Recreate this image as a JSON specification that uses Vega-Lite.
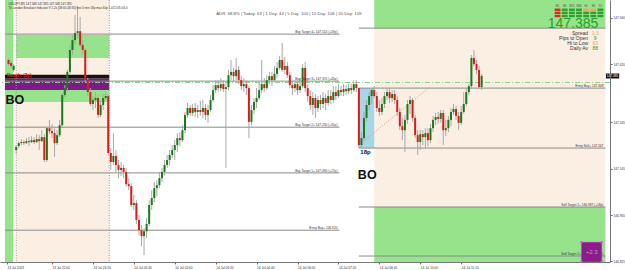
{
"$schema": "https://vega.github.io/schema/vega-lite/v6.json",
"width": 610, "height": 262,
"autosize": {"type": "none"},
"padding": {"left": 0, "top": 0, "right": 15, "bottom": 8},
"background": "white",
"config": {"view": {"stroke": null}, "font": "Liberation Sans"},
"datasets": {
"levels": [
{"t1":"2023-07-13T20:28Z","t2":"2023-07-14T07:22Z","p":147.511,"label":"Buy Target 4+ 147.510 (+59p)"},
{"t1":"2023-07-13T20:28Z","t2":"2023-07-14T07:22Z","p":147.369,"label":"Buy Target 3+ 147.370 (+45p)"},
{"t1":"2023-07-13T20:28Z","t2":"2023-07-14T07:22Z","p":147.230,"label":"Buy Target 2+ 147.230 (+31p)"},
{"t1":"2023-07-13T20:28Z","t2":"2023-07-14T07:22Z","p":147.092,"label":"Buy Target 1+ 147.090 (+17p)"},
{"t1":"2023-07-13T20:28Z","t2":"2023-07-14T07:22Z","p":146.919,"label":"Entry Buy+ 146.920"},
{"t1":"2023-07-14T08:00Z","t2":"2023-07-14T16:02Z","p":147.529,"label":""},
{"t1":"2023-07-14T08:00Z","t2":"2023-07-14T16:02Z","p":147.348,"label":"Entry Buy+ 147.348"},
{"t1":"2023-07-14T08:00Z","t2":"2023-07-14T16:02Z","p":147.167,"label":"Entry Sell+ 147.167"},
{"t1":"2023-07-14T08:00Z","t2":"2023-07-14T16:02Z","p":146.989,"label":"Sell Target 1+ 146.987 (+18p)"},
{"t1":"2023-07-14T08:00Z","t2":"2023-07-14T16:02Z","p":146.841,"label":"Sell Target 2+ 146.840 (+33p)"}
],
"candles": [
{"t":"2023-07-13T20:35Z","o":147.433,"h":147.439,"l":147.415,"c":147.421},
{"t":"2023-07-13T20:40Z","o":147.424,"h":147.430,"l":147.409,"c":147.415},
{"t":"2023-07-13T20:45Z","o":147.403,"h":147.421,"l":147.397,"c":147.415},
{"t":"2023-07-13T20:50Z","o":147.161,"h":147.176,"l":147.149,"c":147.170},
{"t":"2023-07-13T20:55Z","o":147.173,"h":147.188,"l":147.167,"c":147.182},
{"t":"2023-07-13T21:00Z","o":147.182,"h":147.194,"l":147.176,"c":147.185},
{"t":"2023-07-13T21:05Z","o":147.185,"h":147.191,"l":147.176,"c":147.182},
{"t":"2023-07-13T21:10Z","o":147.182,"h":147.197,"l":147.179,"c":147.188},
{"t":"2023-07-13T21:15Z","o":147.188,"h":147.200,"l":147.173,"c":147.185},
{"t":"2023-07-13T21:20Z","o":147.185,"h":147.203,"l":147.182,"c":147.191},
{"t":"2023-07-13T21:25Z","o":147.191,"h":147.200,"l":147.179,"c":147.185},
{"t":"2023-07-13T21:30Z","o":147.185,"h":147.209,"l":147.182,"c":147.194},
{"t":"2023-07-13T21:35Z","o":147.194,"h":147.206,"l":147.161,"c":147.188},
{"t":"2023-07-13T21:40Z","o":147.188,"h":147.221,"l":147.185,"c":147.200},
{"t":"2023-07-13T21:45Z","o":147.200,"h":147.209,"l":147.125,"c":147.131},
{"t":"2023-07-13T21:50Z","o":147.131,"h":147.230,"l":147.125,"c":147.227},
{"t":"2023-07-13T21:55Z","o":147.227,"h":147.252,"l":147.209,"c":147.218},
{"t":"2023-07-13T22:00Z","o":147.218,"h":147.240,"l":147.197,"c":147.212},
{"t":"2023-07-13T22:05Z","o":147.212,"h":147.227,"l":147.140,"c":147.182},
{"t":"2023-07-13T22:10Z","o":147.182,"h":147.221,"l":147.176,"c":147.206},
{"t":"2023-07-13T22:15Z","o":147.206,"h":147.252,"l":147.200,"c":147.236},
{"t":"2023-07-13T22:20Z","o":147.236,"h":147.333,"l":147.230,"c":147.327},
{"t":"2023-07-13T22:25Z","o":147.327,"h":147.357,"l":147.321,"c":147.348},
{"t":"2023-07-13T22:30Z","o":147.348,"h":147.403,"l":147.336,"c":147.397},
{"t":"2023-07-13T22:35Z","o":147.397,"h":147.478,"l":147.391,"c":147.463},
{"t":"2023-07-13T22:40Z","o":147.463,"h":147.508,"l":147.448,"c":147.493},
{"t":"2023-07-13T22:45Z","o":147.493,"h":147.569,"l":147.481,"c":147.514},
{"t":"2023-07-13T22:50Z","o":147.514,"h":147.596,"l":147.499,"c":147.520},
{"t":"2023-07-13T22:55Z","o":147.520,"h":147.563,"l":147.472,"c":147.478},
{"t":"2023-07-13T23:00Z","o":147.478,"h":147.493,"l":147.448,"c":147.463},
{"t":"2023-07-13T23:05Z","o":147.463,"h":147.469,"l":147.366,"c":147.372},
{"t":"2023-07-13T23:10Z","o":147.372,"h":147.378,"l":147.324,"c":147.336},
{"t":"2023-07-13T23:15Z","o":147.336,"h":147.348,"l":147.294,"c":147.300},
{"t":"2023-07-13T23:20Z","o":147.300,"h":147.324,"l":147.282,"c":147.312},
{"t":"2023-07-13T23:25Z","o":147.312,"h":147.336,"l":147.288,"c":147.318},
{"t":"2023-07-13T23:30Z","o":147.318,"h":147.327,"l":147.258,"c":147.267},
{"t":"2023-07-13T23:35Z","o":147.267,"h":147.312,"l":147.261,"c":147.297},
{"t":"2023-07-13T23:40Z","o":147.297,"h":147.330,"l":147.282,"c":147.318},
{"t":"2023-07-13T23:45Z","o":147.318,"h":147.336,"l":147.312,"c":147.324},
{"t":"2023-07-13T23:50Z","o":147.324,"h":147.330,"l":147.146,"c":147.152},
{"t":"2023-07-13T23:55Z","o":147.152,"h":147.167,"l":147.101,"c":147.125},
{"t":"2023-07-14T00:00Z","o":147.125,"h":147.212,"l":147.116,"c":147.143},
{"t":"2023-07-14T00:05Z","o":147.143,"h":147.161,"l":147.095,"c":147.116},
{"t":"2023-07-14T00:10Z","o":147.116,"h":147.131,"l":147.076,"c":147.101},
{"t":"2023-07-14T00:15Z","o":147.101,"h":147.125,"l":147.082,"c":147.107},
{"t":"2023-07-14T00:20Z","o":147.107,"h":147.116,"l":147.076,"c":147.095},
{"t":"2023-07-14T00:25Z","o":147.095,"h":147.107,"l":147.052,"c":147.058},
{"t":"2023-07-14T00:30Z","o":147.058,"h":147.076,"l":147.040,"c":147.052},
{"t":"2023-07-14T00:35Z","o":147.052,"h":147.061,"l":146.989,"c":146.995},
{"t":"2023-07-14T00:40Z","o":146.995,"h":147.025,"l":146.980,"c":147.001},
{"t":"2023-07-14T00:45Z","o":147.001,"h":147.010,"l":146.938,"c":146.950},
{"t":"2023-07-14T00:50Z","o":146.950,"h":146.965,"l":146.904,"c":146.919},
{"t":"2023-07-14T00:55Z","o":146.919,"h":146.934,"l":146.871,"c":146.901},
{"t":"2023-07-14T01:00Z","o":146.901,"h":146.925,"l":146.844,"c":146.916},
{"t":"2023-07-14T01:05Z","o":146.916,"h":146.956,"l":146.895,"c":146.938},
{"t":"2023-07-14T01:10Z","o":146.938,"h":147.010,"l":146.931,"c":146.995},
{"t":"2023-07-14T01:15Z","o":146.995,"h":147.040,"l":146.980,"c":147.016},
{"t":"2023-07-14T01:20Z","o":147.016,"h":147.064,"l":147.004,"c":147.046},
{"t":"2023-07-14T01:25Z","o":147.046,"h":147.070,"l":147.022,"c":147.055},
{"t":"2023-07-14T01:30Z","o":147.055,"h":147.095,"l":147.046,"c":147.076},
{"t":"2023-07-14T01:35Z","o":147.076,"h":147.107,"l":147.064,"c":147.095},
{"t":"2023-07-14T01:40Z","o":147.095,"h":147.131,"l":147.085,"c":147.116},
{"t":"2023-07-14T01:45Z","o":147.116,"h":147.146,"l":147.107,"c":147.131},
{"t":"2023-07-14T01:50Z","o":147.131,"h":147.161,"l":147.113,"c":147.146},
{"t":"2023-07-14T01:55Z","o":147.146,"h":147.176,"l":147.137,"c":147.161},
{"t":"2023-07-14T02:00Z","o":147.161,"h":147.191,"l":147.131,"c":147.176},
{"t":"2023-07-14T02:05Z","o":147.176,"h":147.212,"l":147.155,"c":147.197},
{"t":"2023-07-14T02:10Z","o":147.197,"h":147.215,"l":147.173,"c":147.191},
{"t":"2023-07-14T02:15Z","o":147.191,"h":147.236,"l":147.185,"c":147.221},
{"t":"2023-07-14T02:20Z","o":147.221,"h":147.276,"l":147.212,"c":147.267},
{"t":"2023-07-14T02:25Z","o":147.267,"h":147.303,"l":147.258,"c":147.288},
{"t":"2023-07-14T02:30Z","o":147.288,"h":147.297,"l":147.264,"c":147.273},
{"t":"2023-07-14T02:35Z","o":147.273,"h":147.300,"l":147.264,"c":147.288},
{"t":"2023-07-14T02:40Z","o":147.288,"h":147.303,"l":147.261,"c":147.276},
{"t":"2023-07-14T02:45Z","o":147.276,"h":147.297,"l":147.258,"c":147.282},
{"t":"2023-07-14T02:50Z","o":147.282,"h":147.309,"l":147.264,"c":147.276},
{"t":"2023-07-14T02:55Z","o":147.276,"h":147.312,"l":147.258,"c":147.288},
{"t":"2023-07-14T03:00Z","o":147.288,"h":147.300,"l":147.252,"c":147.267},
{"t":"2023-07-14T03:05Z","o":147.267,"h":147.297,"l":147.243,"c":147.282},
{"t":"2023-07-14T03:10Z","o":147.282,"h":147.327,"l":147.276,"c":147.312},
{"t":"2023-07-14T03:15Z","o":147.312,"h":147.357,"l":147.306,"c":147.342},
{"t":"2023-07-14T03:20Z","o":147.342,"h":147.372,"l":147.333,"c":147.357},
{"t":"2023-07-14T03:25Z","o":147.357,"h":147.372,"l":147.336,"c":147.348},
{"t":"2023-07-14T03:30Z","o":147.348,"h":147.378,"l":147.339,"c":147.360},
{"t":"2023-07-14T03:35Z","o":147.360,"h":147.372,"l":147.336,"c":147.345},
{"t":"2023-07-14T03:40Z","o":147.345,"h":147.363,"l":147.107,"c":147.351},
{"t":"2023-07-14T03:45Z","o":147.351,"h":147.403,"l":147.342,"c":147.387},
{"t":"2023-07-14T03:50Z","o":147.387,"h":147.433,"l":147.372,"c":147.397},
{"t":"2023-07-14T03:55Z","o":147.397,"h":147.409,"l":147.366,"c":147.384},
{"t":"2023-07-14T04:00Z","o":147.384,"h":147.439,"l":147.372,"c":147.403},
{"t":"2023-07-14T04:05Z","o":147.403,"h":147.415,"l":147.360,"c":147.372},
{"t":"2023-07-14T04:10Z","o":147.372,"h":147.384,"l":147.342,"c":147.354},
{"t":"2023-07-14T04:15Z","o":147.354,"h":147.378,"l":147.336,"c":147.360},
{"t":"2023-07-14T04:20Z","o":147.360,"h":147.372,"l":147.327,"c":147.348},
{"t":"2023-07-14T04:25Z","o":147.348,"h":147.354,"l":147.197,"c":147.246},
{"t":"2023-07-14T04:30Z","o":147.246,"h":147.297,"l":147.236,"c":147.282},
{"t":"2023-07-14T04:35Z","o":147.282,"h":147.318,"l":147.270,"c":147.306},
{"t":"2023-07-14T04:40Z","o":147.306,"h":147.348,"l":147.288,"c":147.318},
{"t":"2023-07-14T04:45Z","o":147.318,"h":147.366,"l":147.312,"c":147.342},
{"t":"2023-07-14T04:50Z","o":147.342,"h":147.433,"l":147.333,"c":147.360},
{"t":"2023-07-14T04:55Z","o":147.360,"h":147.378,"l":147.336,"c":147.348},
{"t":"2023-07-14T05:00Z","o":147.348,"h":147.387,"l":147.342,"c":147.372},
{"t":"2023-07-14T05:05Z","o":147.372,"h":147.397,"l":147.360,"c":147.384},
{"t":"2023-07-14T05:10Z","o":147.384,"h":147.397,"l":147.354,"c":147.372},
{"t":"2023-07-14T05:15Z","o":147.372,"h":147.415,"l":147.366,"c":147.391},
{"t":"2023-07-14T05:20Z","o":147.391,"h":147.427,"l":147.378,"c":147.409},
{"t":"2023-07-14T05:25Z","o":147.409,"h":147.445,"l":147.403,"c":147.433},
{"t":"2023-07-14T05:30Z","o":147.433,"h":147.484,"l":147.397,"c":147.403},
{"t":"2023-07-14T05:35Z","o":147.403,"h":147.442,"l":147.391,"c":147.415},
{"t":"2023-07-14T05:40Z","o":147.415,"h":147.427,"l":147.378,"c":147.387},
{"t":"2023-07-14T05:45Z","o":147.387,"h":147.397,"l":147.348,"c":147.357},
{"t":"2023-07-14T05:50Z","o":147.357,"h":147.372,"l":147.327,"c":147.348},
{"t":"2023-07-14T05:55Z","o":147.348,"h":147.372,"l":147.336,"c":147.360},
{"t":"2023-07-14T06:00Z","o":147.360,"h":147.372,"l":147.327,"c":147.342},
{"t":"2023-07-14T06:05Z","o":147.342,"h":147.378,"l":147.333,"c":147.354},
{"t":"2023-07-14T06:10Z","o":147.354,"h":147.421,"l":147.348,"c":147.409},
{"t":"2023-07-14T06:15Z","o":147.409,"h":147.427,"l":147.336,"c":147.348},
{"t":"2023-07-14T06:20Z","o":147.348,"h":147.360,"l":147.306,"c":147.324},
{"t":"2023-07-14T06:25Z","o":147.324,"h":147.342,"l":147.282,"c":147.297},
{"t":"2023-07-14T06:30Z","o":147.297,"h":147.336,"l":147.267,"c":147.318},
{"t":"2023-07-14T06:35Z","o":147.318,"h":147.330,"l":147.258,"c":147.288},
{"t":"2023-07-14T06:40Z","o":147.288,"h":147.324,"l":147.276,"c":147.312},
{"t":"2023-07-14T06:45Z","o":147.312,"h":147.327,"l":147.282,"c":147.300},
{"t":"2023-07-14T06:50Z","o":147.300,"h":147.336,"l":147.288,"c":147.318},
{"t":"2023-07-14T06:55Z","o":147.318,"h":147.330,"l":147.282,"c":147.303},
{"t":"2023-07-14T07:00Z","o":147.303,"h":147.342,"l":147.294,"c":147.324},
{"t":"2023-07-14T07:05Z","o":147.324,"h":147.342,"l":147.300,"c":147.312},
{"t":"2023-07-14T07:10Z","o":147.312,"h":147.354,"l":147.303,"c":147.336},
{"t":"2023-07-14T07:15Z","o":147.336,"h":147.354,"l":147.312,"c":147.324},
{"t":"2023-07-14T07:20Z","o":147.324,"h":147.360,"l":147.318,"c":147.342},
{"t":"2023-07-14T07:25Z","o":147.342,"h":147.354,"l":147.324,"c":147.336},
{"t":"2023-07-14T07:30Z","o":147.336,"h":147.360,"l":147.324,"c":147.345},
{"t":"2023-07-14T07:35Z","o":147.345,"h":147.357,"l":147.327,"c":147.339},
{"t":"2023-07-14T07:40Z","o":147.339,"h":147.360,"l":147.330,"c":147.348},
{"t":"2023-07-14T07:45Z","o":147.348,"h":147.360,"l":147.330,"c":147.342},
{"t":"2023-07-14T07:50Z","o":147.342,"h":147.372,"l":147.336,"c":147.360},
{"t":"2023-07-14T07:55Z","o":147.360,"h":147.372,"l":147.336,"c":147.348},
{"t":"2023-07-14T08:00Z","o":147.348,"h":147.348,"l":147.167,"c":147.176},
{"t":"2023-07-14T08:05Z","o":147.176,"h":147.215,"l":147.167,"c":147.197},
{"t":"2023-07-14T08:10Z","o":147.197,"h":147.276,"l":147.191,"c":147.258},
{"t":"2023-07-14T08:15Z","o":147.258,"h":147.312,"l":147.246,"c":147.297},
{"t":"2023-07-14T08:20Z","o":147.297,"h":147.336,"l":147.282,"c":147.324},
{"t":"2023-07-14T08:25Z","o":147.324,"h":147.348,"l":147.300,"c":147.342},
{"t":"2023-07-14T08:30Z","o":147.342,"h":147.354,"l":147.318,"c":147.324},
{"t":"2023-07-14T08:35Z","o":147.324,"h":147.336,"l":147.276,"c":147.288},
{"t":"2023-07-14T08:40Z","o":147.288,"h":147.312,"l":147.264,"c":147.276},
{"t":"2023-07-14T08:45Z","o":147.276,"h":147.318,"l":147.267,"c":147.300},
{"t":"2023-07-14T08:50Z","o":147.300,"h":147.336,"l":147.288,"c":147.324},
{"t":"2023-07-14T08:55Z","o":147.324,"h":147.348,"l":147.312,"c":147.336},
{"t":"2023-07-14T09:00Z","o":147.336,"h":147.348,"l":147.303,"c":147.318},
{"t":"2023-07-14T09:05Z","o":147.318,"h":147.342,"l":147.306,"c":147.330},
{"t":"2023-07-14T09:10Z","o":147.330,"h":147.342,"l":147.300,"c":147.312},
{"t":"2023-07-14T09:15Z","o":147.312,"h":147.324,"l":147.264,"c":147.276},
{"t":"2023-07-14T09:20Z","o":147.276,"h":147.288,"l":147.221,"c":147.233},
{"t":"2023-07-14T09:25Z","o":147.233,"h":147.258,"l":147.191,"c":147.221},
{"t":"2023-07-14T09:30Z","o":147.221,"h":147.267,"l":147.155,"c":147.252},
{"t":"2023-07-14T09:35Z","o":147.252,"h":147.312,"l":147.240,"c":147.300},
{"t":"2023-07-14T09:40Z","o":147.300,"h":147.324,"l":147.270,"c":147.312},
{"t":"2023-07-14T09:45Z","o":147.312,"h":147.318,"l":147.246,"c":147.258},
{"t":"2023-07-14T09:50Z","o":147.258,"h":147.267,"l":147.197,"c":147.206},
{"t":"2023-07-14T09:55Z","o":147.206,"h":147.221,"l":147.146,"c":147.185},
{"t":"2023-07-14T10:00Z","o":147.185,"h":147.221,"l":147.161,"c":147.209},
{"t":"2023-07-14T10:05Z","o":147.209,"h":147.221,"l":147.176,"c":147.200},
{"t":"2023-07-14T10:10Z","o":147.200,"h":147.227,"l":147.167,"c":147.212},
{"t":"2023-07-14T10:15Z","o":147.212,"h":147.227,"l":147.173,"c":147.191},
{"t":"2023-07-14T10:20Z","o":147.191,"h":147.240,"l":147.182,"c":147.227},
{"t":"2023-07-14T10:25Z","o":147.227,"h":147.264,"l":147.215,"c":147.252},
{"t":"2023-07-14T10:30Z","o":147.252,"h":147.273,"l":147.236,"c":147.261},
{"t":"2023-07-14T10:35Z","o":147.261,"h":147.276,"l":147.240,"c":147.255},
{"t":"2023-07-14T10:40Z","o":147.255,"h":147.282,"l":147.243,"c":147.273},
{"t":"2023-07-14T10:45Z","o":147.273,"h":147.282,"l":147.176,"c":147.221},
{"t":"2023-07-14T10:50Z","o":147.221,"h":147.252,"l":147.203,"c":147.227},
{"t":"2023-07-14T10:55Z","o":147.227,"h":147.264,"l":147.215,"c":147.252},
{"t":"2023-07-14T11:00Z","o":147.252,"h":147.288,"l":147.233,"c":147.276},
{"t":"2023-07-14T11:05Z","o":147.276,"h":147.300,"l":147.267,"c":147.285},
{"t":"2023-07-14T11:10Z","o":147.285,"h":147.294,"l":147.252,"c":147.264},
{"t":"2023-07-14T11:15Z","o":147.264,"h":147.276,"l":147.221,"c":147.243},
{"t":"2023-07-14T11:20Z","o":147.243,"h":147.294,"l":147.236,"c":147.276},
{"t":"2023-07-14T11:25Z","o":147.276,"h":147.336,"l":147.270,"c":147.300},
{"t":"2023-07-14T11:30Z","o":147.300,"h":147.348,"l":147.294,"c":147.336},
{"t":"2023-07-14T11:35Z","o":147.336,"h":147.360,"l":147.327,"c":147.354},
{"t":"2023-07-14T11:40Z","o":147.354,"h":147.448,"l":147.348,"c":147.439},
{"t":"2023-07-14T11:45Z","o":147.439,"h":147.463,"l":147.415,"c":147.421},
{"t":"2023-07-14T11:50Z","o":147.421,"h":147.433,"l":147.391,"c":147.403},
{"t":"2023-07-14T11:55Z","o":147.403,"h":147.415,"l":147.345,"c":147.351},
{"t":"2023-07-14T12:00Z","o":147.351,"h":147.391,"l":147.342,"c":147.385}
]
},
"layer": [
{"layer": [
{
"data": {"values": [
{"t1":"2023-07-13T20:50Z","t2":"2023-07-13T23:52Z","p1":147.614,"p2":146.823,"k":"day"},
{"t1":"2023-07-13T20:28Z","t2":"2023-07-13T20:44Z","p1":147.614,"p2":146.823,"k":"zone"},
{"t1":"2023-07-13T20:50Z","t2":"2023-07-13T23:52Z","p1":147.508,"p2":147.439,"k":"zone"},
{"t1":"2023-07-13T20:28Z","t2":"2023-07-13T23:52Z","p1":147.342,"p2":147.306,"k":"zone"},
{"t1":"2023-07-13T20:28Z","t2":"2023-07-13T23:52Z","p1":147.377,"p2":147.342,"k":"sell"},
{"t1":"2023-07-13T20:28Z","t2":"2023-07-13T23:52Z","p1":147.388,"p2":147.377,"k":"edge"},
{"t1":"2023-07-14T08:30Z","t2":"2023-07-14T16:02Z","p1":147.529,"p2":146.989,"k":"day"},
{"t1":"2023-07-14T08:30Z","t2":"2023-07-14T16:02Z","p1":147.614,"p2":147.529,"k":"zone"},
{"t1":"2023-07-14T08:30Z","t2":"2023-07-14T16:02Z","p1":146.989,"p2":146.823,"k":"zone"},
{"t1":"2023-07-14T08:00Z","t2":"2023-07-14T08:30Z","p1":147.348,"p2":147.167,"k":"range"}
], "format": {"parse": {"t1": "date", "t2": "date"}}},
"mark": {"type": "rect"},
"encoding": {
"x": {"field": "t1", "type": "temporal",
 "scale": {"type": "utc", "domain": [1689280086000, 1689350472000]},
 "axis": {"title": null, "grid": false, "zindex": 1,
  "values": [1689280320000,1689283200000,1689285600000,1689288000000,1689290400000,1689292800000,1689295200000,1689297600000,1689300000000,1689302400000,1689304800000,1689307200000,1689309600000,1689312000000,1689314400000,1689316800000,1689319200000,1689321600000,1689324000000,1689326400000,1689328800000,1689331200000,1689333600000,1689336000000],
  "labelExpr": "datum.value < 1689283000000 ? '13 Jul 2023' : utcFormat(datum.value, '%d %b %H:%M')",
  "labelFontSize": 3.2, "labelColor": "#333333", "labelAlign": "left", "labelPadding": 1,
  "labelOverlap": false, "labelFlush": false, "tickSize": 2, "tickColor": "#666666", "domainColor": "#777777"}},
"x2": {"field": "t2"},
"y": {"field": "p1", "type": "quantitative",
 "scale": {"domain": [146.823, 147.614], "zero": false, "nice": false},
 "axis": {"title": null, "orient": "right", "grid": false, "zindex": 1,
  "values": [147.595,147.56,147.525,147.49,147.455,147.42,147.35,147.315,147.28,147.245,147.21,147.175,147.14,147.105,147.07,147.035,147.0,146.965,146.93,146.895,146.86,146.825],
  "format": ".3f", "labelFontSize": 3.2, "labelColor": "#333333", "labelPadding": 1,
  "labelOverlap": false, "labelFlush": false, "tickSize": 2, "tickColor": "#666666", "domainColor": "#777777"}},
"y2": {"field": "p2"},
"color": {"field": "k", "type": "nominal", "legend": null,
 "scale": {"domain": ["day","zone","range","sell","edge"], "range": ["#fbefe4","#97e38b","#a8d5e8","#7b1c86","#141414"]}}
}
},
{
"data": {"values": [{"t":"2023-07-13T20:50Z"},{"t":"2023-07-13T23:52Z"}]},
"mark": {"type": "rule", "color": "#999999", "strokeDash": [1, 1.5], "strokeWidth": 1},
"encoding": {"x": {"field": "t", "type": "temporal"}}
},
{
"data": {"name": "levels"},
"mark": {"type": "rule", "color": "#8a8a8a", "strokeWidth": 1},
"encoding": {"x": {"field": "t1", "type": "temporal"}, "x2": {"field": "t2"}, "y": {"field": "p", "type": "quantitative"}}
},
{
"data": {"values": [{"p": 147.365}]},
"mark": {"type": "rule", "color": "#86d486", "strokeDash": [5, 2, 1, 2], "strokeWidth": 1},
"encoding": {"y": {"field": "p", "type": "quantitative"}}
},
{
"data": {"values": [{"t":"2023-07-14T08:00Z","p":147.176},{"t":"2023-07-14T10:20Z","p":147.353}]},
"mark": {"type": "line", "color": "#f2907a", "strokeDash": [1, 1.5], "strokeWidth": 1},
"encoding": {"x": {"field": "t", "type": "temporal"}, "y": {"field": "p", "type": "quantitative"}}
},
{
"data": {"name": "candles"},
"mark": {"type": "rule", "color": "#a8a8a8", "strokeWidth": 1},
"encoding": {"x": {"field": "t", "type": "temporal"}, "y": {"field": "l", "type": "quantitative"}, "y2": {"field": "h"}}
},
{
"data": {"name": "candles"},
"mark": {"type": "bar", "size": 2},
"encoding": {"x": {"field": "t", "type": "temporal"}, "y": {"field": "o", "type": "quantitative"}, "y2": {"field": "c"},
 "color": {"condition": {"test": "datum.c >= datum.o", "value": "#1a7a1a"}, "value": "#d81c1c"}}
},
{
"data": {"name": "levels"},
"mark": {"type": "text", "align": "right", "baseline": "bottom", "dx": -2, "dy": -0.3, "fontSize": 3.2, "color": "#333333"},
"encoding": {"x": {"field": "t2", "type": "temporal"}, "y": {"field": "p", "type": "quantitative"}, "text": {"field": "label"}}
},
{
"data": {"values": [
{"t":"2023-07-13T20:35Z","p":147.603,"txt":"USDJPY,M5  147.349 147.385 147.348 147.385"},
{"t":"2023-07-13T20:35Z","p":147.591,"txt":"Tz London Breakout Indicator V 1.2s [08:00-08:30] test 0 min  18p max 60p  1.0/2.0/3.0/4.0"}
]},
"mark": {"type": "text", "align": "left", "baseline": "middle", "fontSize": 3, "color": "#333333"},
"encoding": {"x": {"field": "t", "type": "temporal"}, "y": {"field": "p", "type": "quantitative"}, "text": {"field": "txt"}}
},
{
"data": {"values": [{"t":"2023-07-14T03:21Z","p":147.572,"txt":"ADR: 68.8%  |  Today: 63  |  1 Day: 44  |  5 Day: 100  |  10 Day: 106  |  20 Day: 109"}]},
"mark": {"type": "text", "align": "left", "baseline": "middle", "fontSize": 4.3, "color": "#555555"},
"encoding": {"x": {"field": "t", "type": "temporal"}, "y": {"field": "p", "type": "quantitative"}, "text": {"field": "txt"}}
},
{
"data": {"values": [{"t":"2023-07-14T15:48Z","p":147.529,"txt":"147.385"}]},
"mark": {"type": "text", "align": "right", "baseline": "alphabetic", "fontSize": 14, "color": "#24a024"},
"encoding": {"x": {"field": "t", "type": "temporal"}, "y": {"field": "p", "type": "quantitative"}, "text": {"field": "txt"}}
},
{
"data": {"values": [
{"t":"2023-07-14T15:28Z","p":147.514,"txt":"Spread"},
{"t":"2023-07-14T15:28Z","p":147.499,"txt":"Pips to Open"},
{"t":"2023-07-14T15:28Z","p":147.484,"txt":"Hi to Low"},
{"t":"2023-07-14T15:28Z","p":147.469,"txt":"Daily Av"}
]},
"mark": {"type": "text", "align": "right", "baseline": "middle", "fontSize": 5, "color": "#333333"},
"encoding": {"x": {"field": "t", "type": "temporal"}, "y": {"field": "p", "type": "quantitative"}, "text": {"field": "txt"}}
},
{
"data": {"values": [
{"t":"2023-07-14T15:42Z","p":147.514,"txt":"1.3","tone":"warn"},
{"t":"2023-07-14T15:42Z","p":147.499,"txt":"9","tone":"up"},
{"t":"2023-07-14T15:42Z","p":147.484,"txt":"63","tone":"warn"},
{"t":"2023-07-14T15:42Z","p":147.469,"txt":"88","tone":"up"}
]},
"mark": {"type": "text", "align": "center", "baseline": "middle", "fontSize": 5},
"encoding": {"x": {"field": "t", "type": "temporal"}, "y": {"field": "p", "type": "quantitative"}, "text": {"field": "txt"},
 "color": {"condition": {"test": "datum.tone == 'up'", "value": "#2a9a2a"}, "value": "#f0a060"}}
},
{
"data": {"values": [{"t":"2023-07-13T20:29Z","p":147.312,"txt":"BO"},{"t":"2023-07-14T07:58Z","p":147.085,"txt":"BO"}]},
"mark": {"type": "text", "align": "left", "baseline": "middle", "fontSize": 12.5, "fontWeight": "bold", "color": "#111111"},
"encoding": {"x": {"field": "t", "type": "temporal"}, "y": {"field": "p", "type": "quantitative"}, "text": {"field": "txt"}}
},
{
"data": {"values": [{"t":"2023-07-14T08:13Z","p":147.154,"txt":"18p"}]},
"mark": {"type": "text", "align": "center", "baseline": "middle", "fontSize": 6, "fontWeight": "bold", "color": "#111111"},
"encoding": {"x": {"field": "t", "type": "temporal"}, "y": {"field": "p", "type": "quantitative"}, "text": {"field": "txt"}}
},
{
"data": {"values": [{"t":"2023-07-13T20:32Z","p":147.384,"txt":"Reach: (2p)"}]},
"mark": {"type": "text", "align": "left", "baseline": "middle", "fontSize": 4.5, "fontWeight": "bold", "color": "#e01010"},
"encoding": {"x": {"field": "t", "type": "temporal"}, "y": {"field": "p", "type": "quantitative"}, "text": {"field": "txt"}}
},
{
"data": {"values": [{"t1":"2023-07-14T15:15Z","t2":"2023-07-14T15:55Z","p1":146.883,"p2":146.823}]},
"mark": {"type": "rect", "color": "#8a1d8a", "stroke": "#e03ae0", "strokeWidth": 0.5},
"encoding": {"x": {"field": "t1", "type": "temporal"}, "x2": {"field": "t2"}, "y": {"field": "p1", "type": "quantitative"}, "y2": {"field": "p2"}}
},
{
"data": {"values": [
{"t":"2023-07-14T15:15Z","p":146.883},{"t":"2023-07-14T15:55Z","p":146.883},
{"t":"2023-07-14T15:15Z","p":146.824},{"t":"2023-07-14T15:55Z","p":146.824}
]},
"mark": {"type": "square", "size": 5, "color": "#ff40ff", "opacity": 1},
"encoding": {"x": {"field": "t", "type": "temporal"}, "y": {"field": "p", "type": "quantitative"}}
},
{
"data": {"values": [{"t":"2023-07-14T15:35Z","p":146.853,"txt":"+2.3"}]},
"mark": {"type": "text", "align": "center", "baseline": "middle", "fontSize": 6, "color": "#d58ad5"},
"encoding": {"x": {"field": "t", "type": "temporal"}, "y": {"field": "p", "type": "quantitative"}, "text": {"field": "txt"}}
},
{
"data": {"values": [{"t1":"2023-07-14T16:03Z","t2":"2023-07-14T16:29Z","p1":147.392,"p2":147.377}]},
"mark": {"type": "rect", "color": "#111111"},
"encoding": {"x": {"field": "t1", "type": "temporal"}, "x2": {"field": "t2"}, "y": {"field": "p1", "type": "quantitative"}, "y2": {"field": "p2"}}
},
{
"data": {"values": [{"t":"2023-07-14T16:16Z","p":147.385,"txt":"147.385"}]},
"mark": {"type": "text", "align": "center", "baseline": "middle", "fontSize": 3.2, "color": "#ffffff"},
"encoding": {"x": {"field": "t", "type": "temporal"}, "y": {"field": "p", "type": "quantitative"}, "text": {"field": "txt"}}
}
]},
{"layer": [
{
"data": {"values": [
{"tf":"M1","r":"r1","s":"down"},{"tf":"M5","r":"r1","s":"up"},{"tf":"M15","r":"r1","s":"up"},{"tf":"M30","r":"r1","s":"up"},{"tf":"H1","r":"r1","s":"flat"},{"tf":"H4","r":"r1","s":"flat"},{"tf":"D1","r":"r1","s":"up"},
{"tf":"M1","r":"r2","s":"down"},{"tf":"M5","r":"r2","s":"up"},{"tf":"M15","r":"r2","s":"up"},{"tf":"M30","r":"r2","s":"up"},{"tf":"H1","r":"r2","s":"up"},{"tf":"H4","r":"r2","s":"up"},{"tf":"D1","r":"r2","s":"up"},
{"tf":"M1","r":"r3","s":"down"},{"tf":"M5","r":"r3","s":"up"},{"tf":"M15","r":"r3","s":"up"},{"tf":"M30","r":"r3","s":"up"},{"tf":"H1","r":"r3","s":"up"},{"tf":"H4","r":"r3","s":"up"},{"tf":"D1","r":"r3","s":"up"}
]},
"mark": {"type": "rect"},
"encoding": {
"x": {"field": "tf", "type": "nominal", "axis": null, "scale": {"type": "band", "domain": ["M1","M5","M15","M30","H1","H4","D1"], "range": [554, 604], "paddingInner": 0.18}},
"y": {"field": "r", "type": "nominal", "axis": null, "scale": {"type": "band", "domain": ["h","r1","r2","r3"], "range": [5, 17.6], "paddingInner": 0.25}},
"color": {"field": "s", "type": "nominal", "legend": null, "scale": {"domain": ["up","down","flat"], "range": ["#2e9e2e","#e52222","#f0a070"]}}
}
},
{
"data": {"values": [
{"tf":"M1","r":"h"},{"tf":"M5","r":"h"},{"tf":"M15","r":"h"},{"tf":"M30","r":"h"},{"tf":"H1","r":"h"},{"tf":"H4","r":"h"},{"tf":"D1","r":"h"}
]},
"mark": {"type": "text", "fontSize": 2.6, "color": "#444444", "baseline": "middle"},
"encoding": {
"x": {"field": "tf", "type": "nominal"},
"y": {"field": "r", "type": "nominal"},
"text": {"field": "tf"}
}
}
]}
],
"resolve": {"scale": {"x": "independent", "y": "independent", "color": "independent"}}
}
